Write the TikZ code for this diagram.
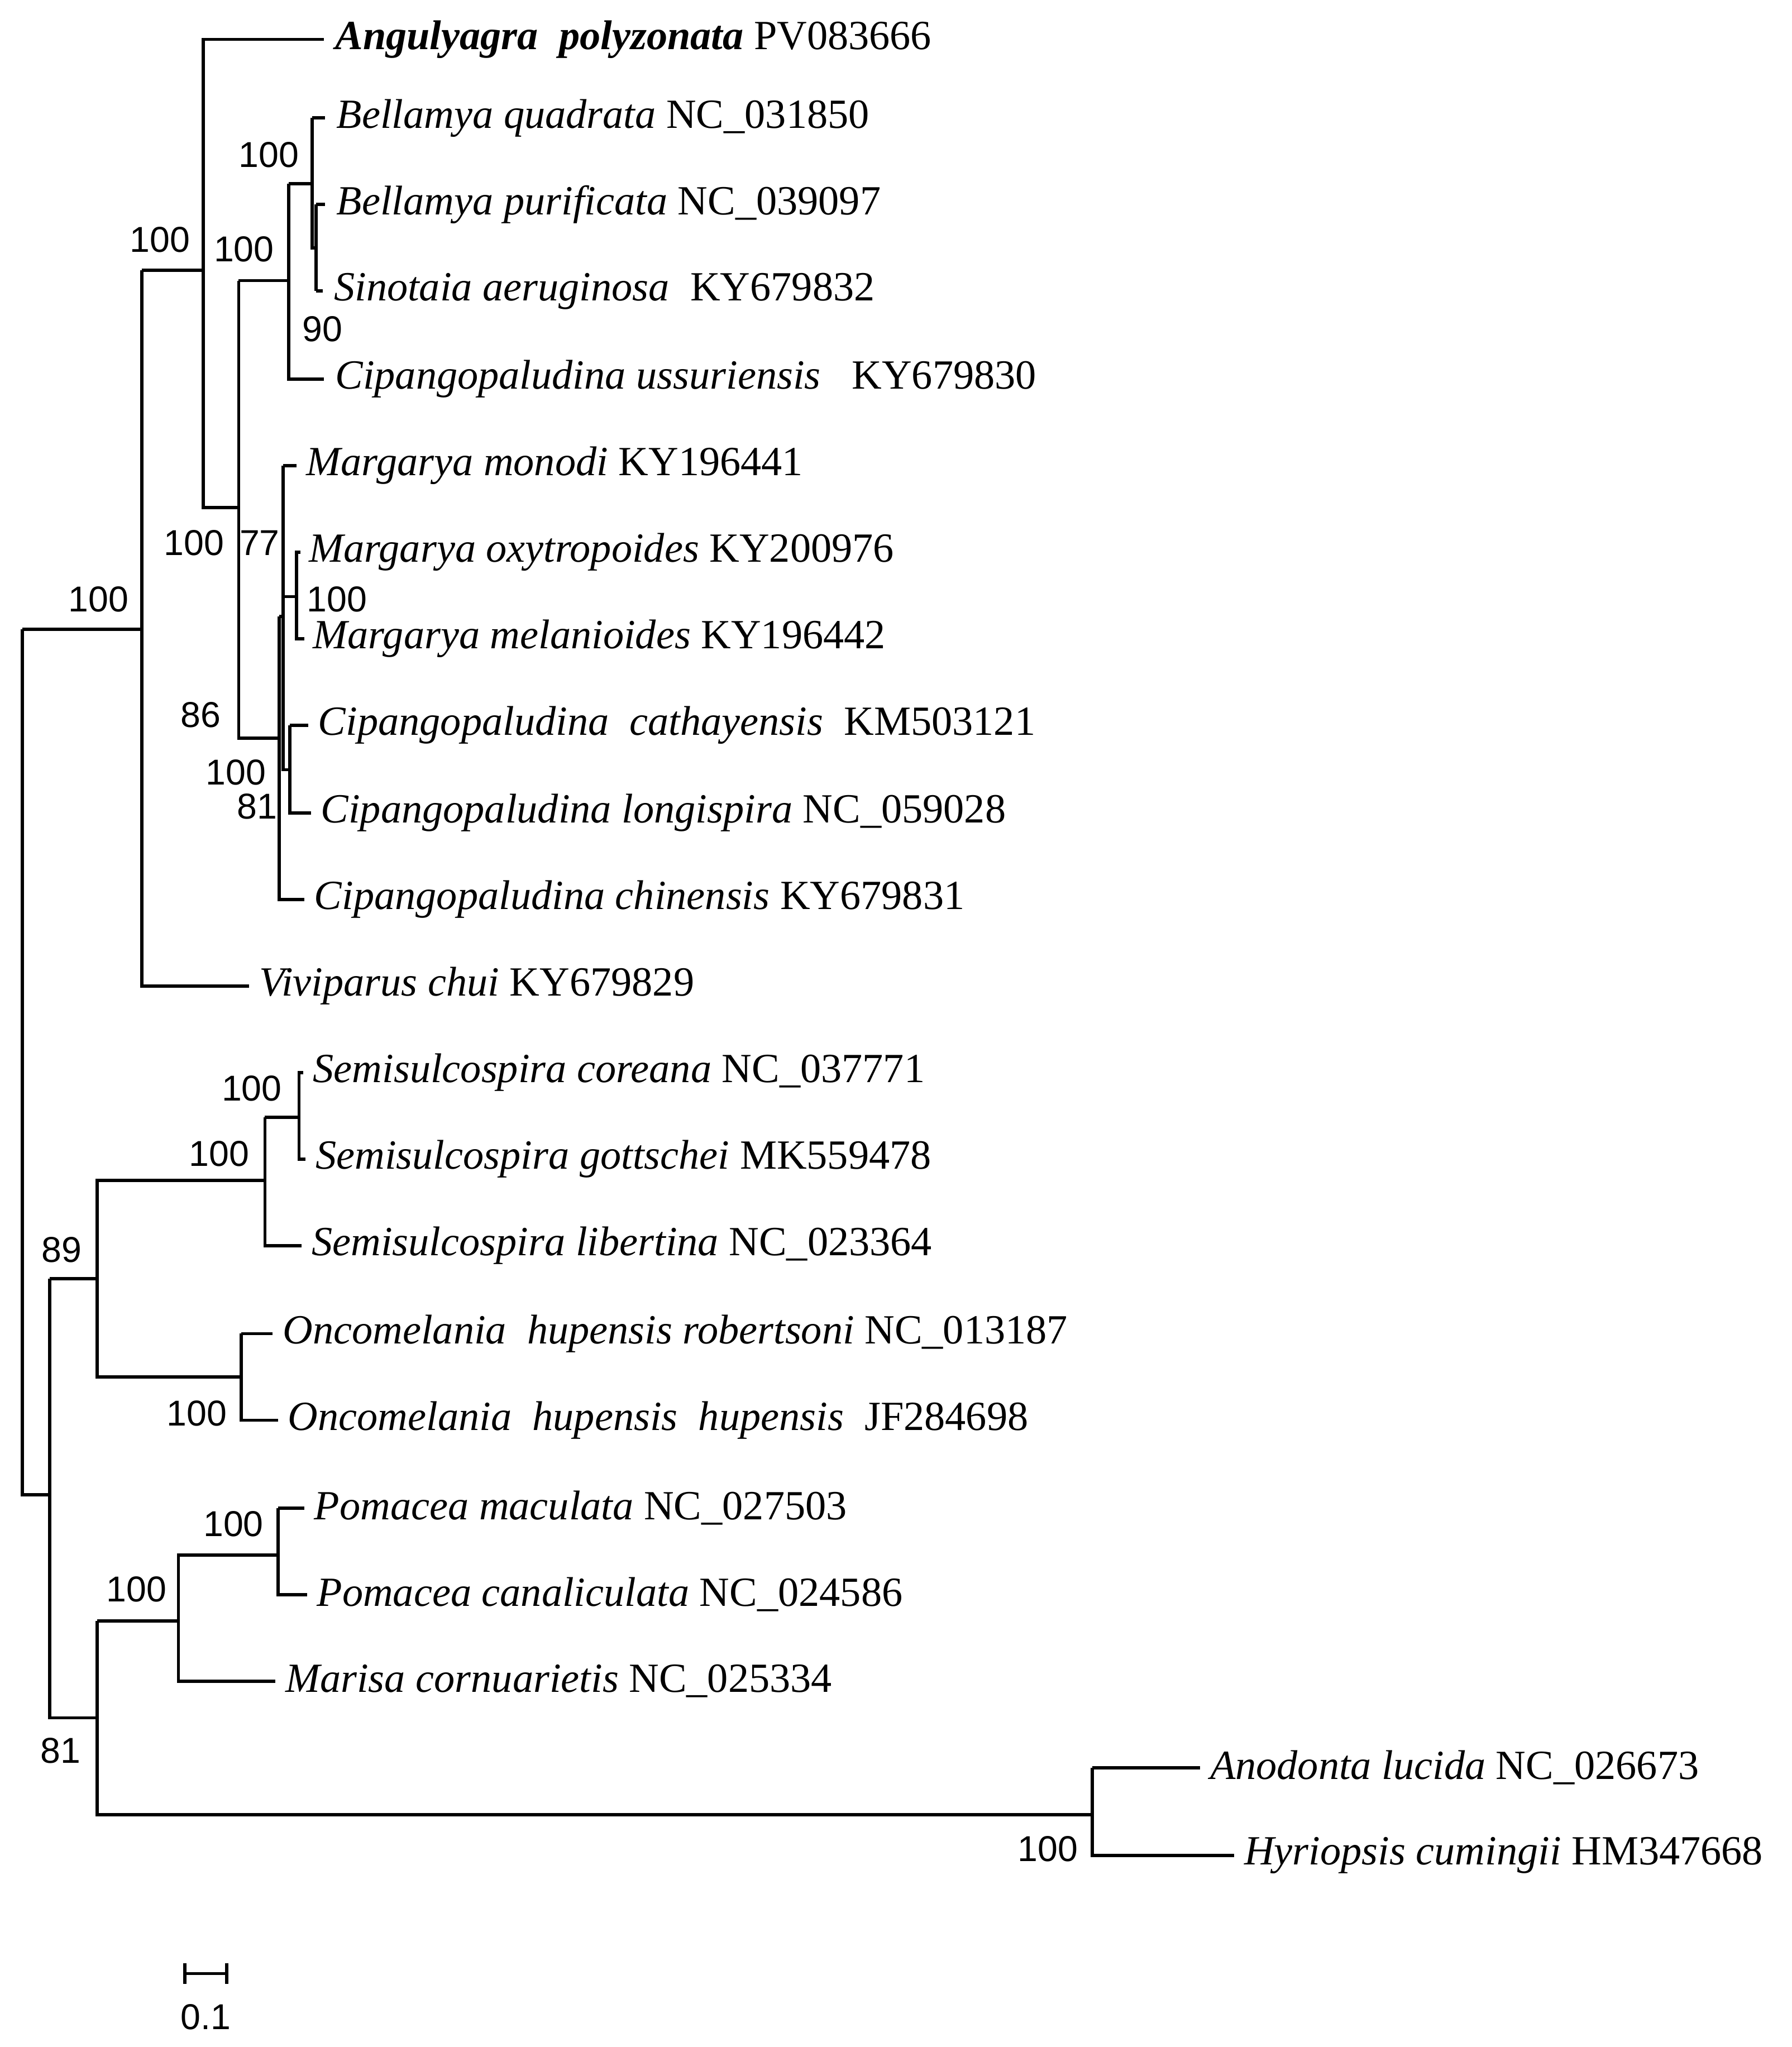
\documentclass[tikz,border=0pt]{standalone}
\usepackage{fontspec}
\setmainfont{Liberation Serif}
\newfontfamily\numfont{Liberation Sans}
\tikzset{
  tip/.style={anchor=west,inner sep=0pt,font=\fontsize{9}{11}\selectfont},
  bs/.style={inner sep=0pt,font=\numfont\fontsize{7.8}{9}\selectfont},
  br/.style={line width=0.7pt}
}
\begin{document}
\begin{tikzpicture}[x=0.01cm,y=-0.01cm]
\useasboundingbox (0,0) rectangle (1366,1561);

% tips
\node[tip] (ang) at (255,30) {\textbf{\textit{Angulyagra\ \ polyzonata}} PV083666};
\node[tip] (bq) at (256,90) {\textit{Bellamya quadrata} NC\_031850};
\node[tip] (bp) at (256,156) {\textit{Bellamya purificata} NC\_039097};
\node[tip] (sa) at (254,222) {\textit{Sinotaia aeruginosa}\ \ KY679832};
\node[tip] (cu) at (255,289) {\textit{Cipangopaludina ussuriensis}\ \ \ KY679830};
\node[tip] (mmo) at (233,355) {\textit{Margarya monodi} KY196441};
\node[tip] (mox) at (235,421) {\textit{Margarya oxytropoides} KY200976};
\node[tip] (mme) at (238,487) {\textit{Margarya melanioides} KY196442};
\node[tip] (cca) at (242,553) {\textit{Cipangopaludina\ \ cathayensis}\ \ KM503121};
\node[tip] (clo) at (244,620) {\textit{Cipangopaludina longispira} NC\_059028};
\node[tip] (cch) at (239,686) {\textit{Cipangopaludina chinensis} KY679831};
\node[tip] (vc) at (197,752) {\textit{Viviparus chui} KY679829};
\node[tip] (sco) at (238,818) {\textit{Semisulcospira coreana} NC\_037771};
\node[tip] (sgo) at (240,884) {\textit{Semisulcospira gottschei}\ MK559478};
\node[tip] (sli) at (237,950) {\textit{Semisulcospira libertina} NC\_023364};
\node[tip] (ohr) at (215,1017) {\textit{Oncomelania\ \ hupensis robertsoni} NC\_013187};
\node[tip] (ohh) at (219,1083) {\textit{Oncomelania\ \ hupensis\ \ hupensis}\ \ JF284698};
\node[tip] (pma) at (239,1150) {\textit{Pomacea maculata} NC\_027503};
\node[tip] (pca) at (241,1216) {\textit{Pomacea canaliculata} NC\_024586};
\node[tip] (mco) at (217,1282) {\textit{Marisa cornuarietis} NC\_025334};
\node[tip] (alu) at (922,1348) {\textit{Anodonta lucida} NC\_026673};
\node[tip] (hcu) at (948,1415) {\textit{Hyriopsis cumingii} HM347668};

% internal nodes
\coordinate (nA) at (108,480);
\coordinate (nB) at (155,206);
\coordinate (nC) at (182,387);
\coordinate (nD) at (220,214);
\coordinate (nE) at (238,140);
\coordinate (nF) at (241,189);
\coordinate (nG) at (213,563);
\coordinate (nH) at (216,470);
\coordinate (nJ) at (226,455);
\coordinate (nL) at (221,587);
\coordinate (nM) at (38,1140);
\coordinate (nN) at (74,975);
\coordinate (nO) at (202,900);
\coordinate (nP) at (228,852);
\coordinate (nQ) at (184,1050);
\coordinate (nR) at (74,1310);
\coordinate (nS) at (136,1236);
\coordinate (nT) at (212,1186);
\coordinate (nU) at (833,1384);

\begin{scope}[br]
% root
\draw (nA -| 17,0) -- (nA);
\draw (17,480) -- (17,1140) -- (nM);
% Viviparidae
\draw (nA |- nB) -- (nA |- vc) -- ([xshift=-0.07cm]vc.west);
\draw (nA |- nB) -- (nB) -- (nB |- ang) -- ([xshift=-0.08cm]ang.west);
\draw (nB) -- (nB |- nC) -- (nC);
\draw (nC |- nD) -- (nD);
\draw (nD |- nE) -- (nD |- cu) -- ([xshift=-0.08cm]cu.west);
\draw (nD |- nE) -- (nE);
\draw (nE |- bq) -- (nE |- nF) -- (nF);
\draw (nE |- bq) -- ([xshift=-0.08cm]bq.west);
\draw (nF |- bp) -- (nF |- sa);
\draw (nF |- bp) -- ([xshift=-0.08cm]bp.west);
\draw (nF |- sa) -- ([xshift=-0.08cm]sa.west);
\draw (nC |- nD) -- (nC |- nG) -- (nG);
\draw (nG |- nH) -- (nG |- cch) -- ([xshift=-0.07cm]cch.west);
\draw (nG |- nH) -- (nH);
\draw (nH |- mmo) -- (nH |- nL) -- (nL);
\draw (nH |- mmo) -- ([xshift=-0.07cm]mmo.west);
\draw (nH |- nJ) -- (nJ) -- (nJ |- mox) -- ([xshift=-0.06cm]mox.west);
\draw (nJ) -- (nJ |- mme) -- ([xshift=-0.06cm]mme.west);
\draw (nL |- cca) -- (nL |- clo) -- ([xshift=-0.07cm]clo.west);
\draw (nL |- cca) -- ([xshift=-0.07cm]cca.west);
% Semisulcospira / Oncomelania
\draw (nM |- nN) -- (nM |- nR) -- (nR);
\draw (nM |- nN) -- (nN) -- (nN |- nO) -- (nO);
\draw (nN) -- (nN |- nQ) -- (nQ);
\draw (nO |- nP) -- (nO |- sli) -- ([xshift=-0.07cm]sli.west);
\draw (nO |- nP) -- (nP) -- (nP |- sco) -- ([xshift=-0.07cm]sco.west);
\draw (nP) -- (nP |- sgo) -- ([xshift=-0.07cm]sgo.west);
\draw (nQ |- ohr) -- (nQ |- ohh) -- ([xshift=-0.07cm]ohh.west);
\draw (nQ |- ohr) -- ([xshift=-0.07cm]ohr.west);
% Ampullariidae / Unionidae
\draw (nR |- nS) -- (nR |- nU) -- (nU);
\draw (nR |- nS) -- (nS) -- (nS |- nT) -- (nT);
\draw (nS) -- (nS |- mco) -- ([xshift=-0.07cm]mco.west);
\draw (nT |- pma) -- (nT |- pca) -- ([xshift=-0.07cm]pca.west);
\draw (nT |- pma) -- ([xshift=-0.07cm]pma.west);
\draw (nU |- alu) -- (nU |- hcu) -- ([xshift=-0.07cm]hcu.west);
\draw (nU |- alu) -- ([xshift=-0.07cm]alu.west);
\end{scope}

% support values
\node[bs] at (75,457) {100};
\node[bs] at (122,183) {100};
\node[bs] at (148,414) {100};
\node[bs] at (186,190) {100};
\node[bs] at (205,118) {100};
\node[bs] at (246,251) {90};
\node[bs] at (198,414) {77};
\node[bs] at (257,457) {100};
\node[bs] at (153,545) {86};
\node[bs] at (180,589) {100};
\node[bs] at (196,615) {81};
\node[bs] at (47,953) {89};
\node[bs] at (167,880) {100};
\node[bs] at (192,830) {100};
\node[bs] at (150,1078) {100};
\node[bs] at (46,1335) {81};
\node[bs] at (104,1212) {100};
\node[bs] at (178,1162) {100};
\node[bs] at (799,1410) {100};

% scale bar
\coordinate (sb1) at (141,1505);
\coordinate (sb2) at (173,1505);
\draw[br] (sb1) -- (sb2);
\draw[br] ([yshift=0.08cm]sb1) -- ([yshift=-0.08cm]sb1);
\draw[br] ([yshift=0.08cm]sb2) -- ([yshift=-0.08cm]sb2);
\node[bs] (sbl) at (157,1538) {0.1};
\end{tikzpicture}
\end{document}
